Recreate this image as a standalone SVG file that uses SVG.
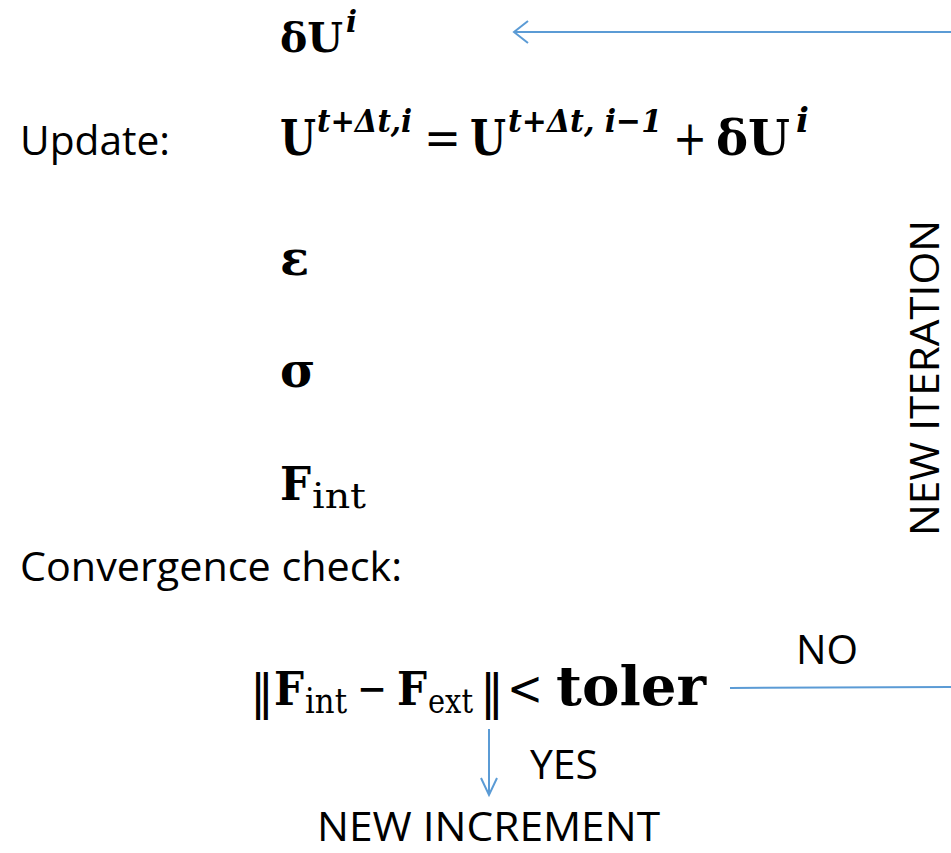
<svg xmlns="http://www.w3.org/2000/svg" width="951" height="853" viewBox="0 0 951 853">
<style>
.b{font-family:"DejaVu Serif","Liberation Serif",serif;font-weight:bold;fill:#000}
.bi{font-family:"DejaVu Serif","Liberation Serif",serif;font-style:italic;font-weight:bold;fill:#000}
.r{font-family:"DejaVu Serif","Liberation Serif",serif;font-weight:normal;fill:#000}
.n{font-family:"DejaVu Sans","Liberation Sans",sans-serif;font-weight:normal;fill:#000}
.t{font-family:"Open Sans","Liberation Sans",sans-serif;font-size:40px;fill:#000}
.c{stroke:#5B9BD5;stroke-width:2;fill:none}
</style>
<rect width="951" height="853" fill="#fff"/>
<g id="connectors">
<line class="c" x1="951" y1="32" x2="514" y2="32"/>
<polyline class="c" points="528,21 514,32 528,43"/>
<line class="c" x1="730" y1="688" x2="951" y2="687"/>
<line class="c" x1="489" y1="729" x2="489" y2="794"/>
<polyline class="c" points="481,778 489,795 497,778"/>
</g>
<g id="dU">
<text class="b" x="280" y="52" font-size="41">δU<tspan class="bi" font-size="29" dx="3" dy="-20">i</tspan></text>
</g>
<g id="update">
<text class="t" x="20" y="155" textLength="150" lengthAdjust="spacingAndGlyphs">Update:</text>
<text class="b" x="280" y="155" font-size="48" textLength="36" lengthAdjust="spacingAndGlyphs">U</text>
<text class="bi" x="317" y="132" font-size="32" textLength="95" lengthAdjust="spacingAndGlyphs">t+Δt,i</text>
<text class="r" x="424" y="155" font-size="48" textLength="37" lengthAdjust="spacingAndGlyphs">=</text>
<text class="b" x="470" y="155" font-size="48" textLength="36" lengthAdjust="spacingAndGlyphs">U</text>
<text class="bi" x="508" y="132" font-size="32" textLength="154" lengthAdjust="spacingAndGlyphs">t+Δt, i−1</text>
<text class="r" x="673" y="155" font-size="48" textLength="34" lengthAdjust="spacingAndGlyphs">+</text>
<text class="b" x="716" y="155" font-size="48" textLength="74" lengthAdjust="spacingAndGlyphs">δU</text>
<text class="bi" x="796" y="132" font-size="34">i</text>
</g>
<g id="eps"><text class="b" x="280" y="275" font-size="48">ε</text></g>
<g id="sigma"><text class="b" x="280" y="387" font-size="48">σ</text></g>
<g id="fint">
<text class="b" x="280" y="500" font-size="46" textLength="31" lengthAdjust="spacingAndGlyphs">F</text>
<text class="r" x="312" y="508" font-size="36" textLength="54" lengthAdjust="spacingAndGlyphs">int</text>
</g>
<g id="conv"><text class="t" x="20" y="581" textLength="382" lengthAdjust="spacingAndGlyphs">Convergence check:</text></g>
<g id="check">
<text class="n" x="250" y="709" font-size="48">‖</text>
<text class="b" x="274" y="705" font-size="46" textLength="30" lengthAdjust="spacingAndGlyphs">F</text>
<text class="r" x="305" y="713" font-size="36" textLength="42" lengthAdjust="spacingAndGlyphs">int</text>
<text class="r" x="357" y="705" font-size="48" textLength="30" lengthAdjust="spacingAndGlyphs">−</text>
<text class="b" x="397" y="705" font-size="46" textLength="30" lengthAdjust="spacingAndGlyphs">F</text>
<text class="r" x="428" y="713" font-size="33" textLength="45" lengthAdjust="spacingAndGlyphs">ext</text>
<text class="n" x="480" y="709" font-size="48">‖</text>
<text class="r" x="507" y="705" font-size="48" textLength="36" lengthAdjust="spacingAndGlyphs">&lt;</text>
<text class="b" x="556" y="705" font-size="54" textLength="150" lengthAdjust="spacingAndGlyphs">toler</text>
</g>
<g id="no"><text class="t" x="796" y="664" textLength="62" lengthAdjust="spacingAndGlyphs">NO</text></g>
<g id="yes"><text class="t" x="530" y="779" textLength="68" lengthAdjust="spacingAndGlyphs">YES</text></g>
<g id="newinc"><text class="t" x="317" y="841" textLength="343" lengthAdjust="spacingAndGlyphs">NEW INCREMENT</text></g>
<g id="newiter"><text class="t" transform="translate(939,536) rotate(-90)" textLength="316" lengthAdjust="spacingAndGlyphs">NEW ITERATION</text></g>
</svg>
